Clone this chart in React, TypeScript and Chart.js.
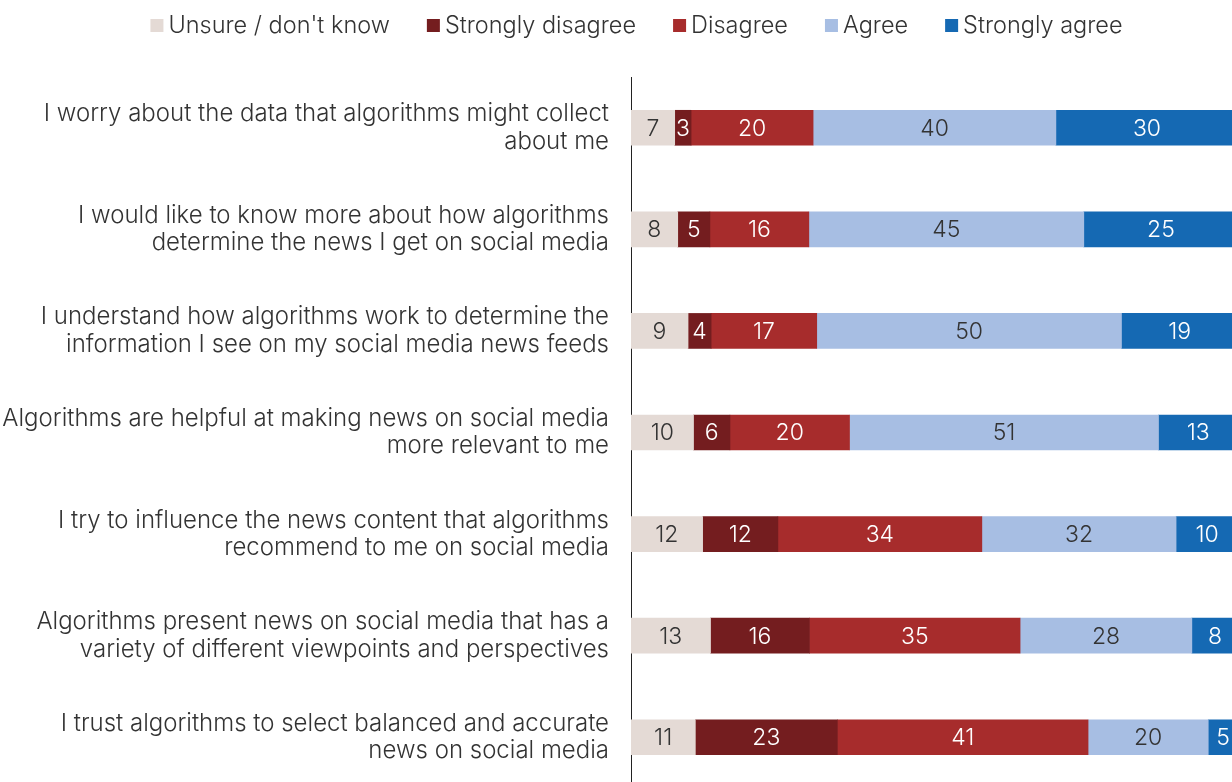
import React, { useEffect, useRef } from "react";
import { Chart, registerables } from "chart.js";

Chart.register(...registerables);

const categories: string[][] = [
  ["I worry about the data that algorithms might collect", "about me"],
  ["I would like to know more about how algorithms", "determine the news I get on social media"],
  ["I understand how algorithms work to determine the", "information I see on my social media news feeds"],
  ["Algorithms are helpful at making news on social media", "more relevant to me"],
  ["I try to influence the news content that algorithms", "recommend to me on social media"],
  ["Algorithms present news on social media that has a", "variety of different viewpoints and perspectives"],
  ["I trust algorithms to select balanced and accurate", "news on social media"],
];

const seriesNames = ["Unsure / don't know", "Strongly disagree", "Disagree", "Agree", "Strongly agree"];

const unsure = [7.2, 7.7, 9.4, 10.3, 11.8, 13.1, 10.6];
const stronglyDisagree = [2.7, 5.3, 3.8, 6.0, 12.4, 16.3, 23.4];
const disagree = [20.1, 16.3, 17.4, 19.7, 33.6, 34.7, 41.3];
const agree = [40.0, 45.3, 50.2, 50.9, 32.0, 28.3, 19.8];
const stronglyAgree = [30.0, 25.4, 19.2, 13.1, 10.2, 7.6, 4.9];

const seriesValues = [unsure, stronglyDisagree, disagree, agree, stronglyAgree];
const seriesColors = ["#E4DAD5", "#741D1F", "#A72C2C", "#A7BEE3", "#1569B3"];
const labelColors = ["#333333", "#FFFFFF", "#FFFFFF", "#333333", "#FFFFFF"];

const FONT = "Inter, 'Noto Sans', sans-serif";
const TEXT = "#333333";

const barLabelPlugin = {
  id: "barLabels",
  afterDatasetsDraw(chart: any) {
    const ctx = chart.ctx;
    ctx.save();
    ctx.font = `300 23px ${FONT}`;
    ctx.textAlign = "center";
    ctx.textBaseline = "middle";
    chart.data.datasets.forEach((ds: any, di: number) => {
      const meta = chart.getDatasetMeta(di);
      meta.data.forEach((el: any, i: number) => {
        const v = ds.data[i];
        const cx = (el.x + el.base) / 2;
        ctx.fillStyle = labelColors[di];
        ctx.fillText(String(Math.round(v)), cx, el.y + 1);
      });
    });
    ctx.restore();
  },
};

const legendPlugin = {
  id: "customLegend",
  afterDraw(chart: any) {
    const ctx = chart.ctx;
    ctx.save();
    ctx.font = `300 23.5px ${FONT}`;
    ctx.textBaseline = "middle";
    ctx.textAlign = "left";
    const box = 13;
    const gapText = 5;
    const gapItem = 37;
    const widths = seriesNames.map((n) => ctx.measureText(n).width);
    const total =
      widths.reduce((a, w) => a + box + gapText + w, 0) + gapItem * (seriesNames.length - 1);
    let x = 636.5 - total / 2;
    const y = 25;
    seriesNames.forEach((n, i) => {
      ctx.fillStyle = seriesColors[i];
      ctx.fillRect(x, y - 6, box, box);
      ctx.fillStyle = TEXT;
      ctx.fillText(n, x + box + gapText, y + 1);
      x += box + gapText + widths[i] + gapItem;
    });
    ctx.restore();
  },
};

export default function App() {
  const ref = useRef<HTMLCanvasElement | null>(null);

  useEffect(() => {
    if (!ref.current) return;
    const chart = new Chart(ref.current, {
      type: "bar",
      data: {
        labels: categories,
        datasets: seriesValues.map((vals, i) => ({
          label: seriesNames[i],
          data: vals,
          backgroundColor: seriesColors[i],
          borderWidth: 0,
          barThickness: 35,
        })),
      },
      options: {
        indexAxis: "y",
        responsive: false,
        animation: false,
        devicePixelRatio: 1,
        layout: { padding: { top: 77, left: 0, right: 0, bottom: 0 } },
        plugins: {
          legend: { display: false },
          tooltip: { enabled: false },
          title: { display: false },
        },
        scales: {
          x: {
            stacked: true,
            display: false,
            min: 0,
            max: 100,
          },
          y: {
            stacked: true,
            grid: { display: false, drawTicks: false },
            border: { display: true, color: "#222222", width: 1 },
            ticks: {
              color: TEXT,
              padding: 22,
              font: { family: FONT, size: 24, weight: "300", lineHeight: 1.146 },
            },
            afterFit(scale: any) {
              scale.width = 631;
              scale.paddingTop = 0;
              scale.paddingBottom = 0;
            },
          },
        },
      },
      plugins: [barLabelPlugin, legendPlugin],
    } as any);
    return () => chart.destroy();
  }, []);

  return (
    <div
      style={{
        position: "fixed",
        left: 0,
        top: 0,
        width: 1232,
        height: 782,
        overflow: "hidden",
        background: "#ffffff",
      }}
    >
      <canvas ref={ref} width={1238} height={788} style={{ display: "block" }} />
    </div>
  );
}
